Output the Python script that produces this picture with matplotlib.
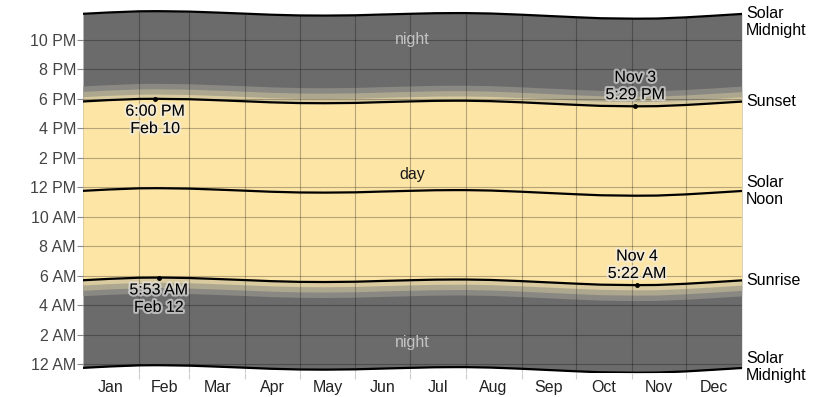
import numpy as np
import matplotlib.pyplot as plt
import matplotlib.patheffects as pe
from matplotlib.patches import Polygon

plt.rcParams['font.family'] = ['Liberation Sans', 'DejaVu Sans']

# day of year (Jan 1 = 0) and times in hours
days = [0, 14, 31, 41, 45, 59, 73, 90, 104, 120, 134, 151, 165, 181, 195, 206,
        212, 226, 243, 257, 273, 287, 306, 318, 334, 348, 365]
sunrise = [5.70, 5.79, 5.87, 5.88, 5.88, 5.85, 5.79, 5.71, 5.64, 5.59, 5.58, 5.60, 5.65, 5.70,
           5.74, 5.75, 5.75, 5.72, 5.64, 5.56, 5.47, 5.40, 5.37, 5.38, 5.46, 5.56, 5.69]
sunset = [17.82, 17.91, 17.99, 18.00, 17.99, 17.97, 17.91, 17.83, 17.76, 17.71, 17.70, 17.72, 17.77, 17.82,
          17.86, 17.87, 17.87, 17.84, 17.76, 17.68, 17.59, 17.52, 17.49, 17.50, 17.58, 17.68, 17.81]
# twilight lengths (hours past sunset / before sunrise): civil, nautical, astronomical
twilight = [0.32, 0.68, 1.05]

months = ['Jan', 'Feb', 'Mar', 'Apr', 'May', 'Jun', 'Jul', 'Aug', 'Sep', 'Oct', 'Nov', 'Dec']
month_edges = [0, 31, 59, 90, 120, 151, 181, 212, 243, 273, 304, 334, 365]
hour_ticks = [0, 2, 4, 6, 8, 10, 12, 14, 16, 18, 20, 22]
hour_labels = ['12 AM', '2 AM', '4 AM', '6 AM', '8 AM', '10 AM',
               '12 PM', '2 PM', '4 PM', '6 PM', '8 PM', '10 PM']

# annotated points
marks = [(40, 18.00, '6:00 PM\nFeb 10', 'below'),
         (42, 5.88, '5:53 AM\nFeb 12', 'below'),
         (306, 17.49, 'Nov 3\n5:29 PM', 'above'),
         (307, 5.37, 'Nov 4\n5:22 AM', 'above')]

x = np.array(days)
rise = np.array(sunrise)
sset = np.array(sunset)
noon = (rise + sset) / 2
mid_lo = noon - 12
mid_hi = noon + 12

night_c = '#6b6b6b'
tw_colors = ['#8a8883', '#aea78f', '#d9cb9f']
day_c = '#fde5a6'

fig = plt.figure(figsize=(8.25, 3.97), dpi=100)
ax = fig.add_axes([0.1006, 0.0600, 0.7984, 0.9141])
ax.set_xlim(0, 365)
ax.set_ylim(-0.6, 24.0)

ax.fill_between(x, mid_lo, mid_hi, color=night_c, lw=0, zorder=1)
for tw, c in zip(twilight[::-1], tw_colors):
    ax.fill_between(x, rise - tw, sset + tw, color=c, lw=0, zorder=1)
ax.fill_between(x, rise, sset, color=day_c, lw=0, zorder=1)

verts = np.vstack([np.column_stack([x, mid_lo]), np.column_stack([x[::-1], mid_hi[::-1]])])
clip = Polygon(verts, closed=True, transform=ax.transData)

vl = ax.vlines(month_edges[1:-1], -1, 25, color='black', alpha=0.28, lw=0.8, zorder=2)
hl = ax.hlines(hour_ticks, 0, 365, color='black', alpha=0.28, lw=0.8, zorder=2)
vl.set_clip_path(clip)
hl.set_clip_path(clip)
ax.vlines(month_edges[1:-1], -0.6, 0.3, color='#cccccc', lw=0.8, zorder=0)

for yy in [mid_lo, rise, noon, sset, mid_hi]:
    ax.plot(x, yy, color='black', lw=1.6, zorder=3)

halo = [pe.withStroke(linewidth=3, foreground='#eeeeee', alpha=0.6)]
for d, t, label, side in marks:
    ax.plot(d, t, 'o', color='black', ms=2.5, zorder=4)
    if side == 'below':
        ax.annotate(label, (d, t), xytext=(0, -3.5), textcoords='offset points',
                    ha='center', va='top', fontsize=11.5, linespacing=1.2,
                    color='black', path_effects=halo, zorder=5)
    else:
        ax.annotate(label, (d, t), xytext=(0, 3), textcoords='offset points',
                    ha='center', va='bottom', fontsize=11.5, linespacing=1.2,
                    color='black', path_effects=halo, zorder=5)

ax.text(182.5, 22.0, 'night', ha='center', va='center', fontsize=11.5, color='#c4c4c4', zorder=5)
ax.text(182.5, 1.45, 'night', ha='center', va='center', fontsize=11.5, color='#c4c4c4', zorder=5)
ax.text(182.5, 12.85, 'day', ha='center', va='center', fontsize=11.5, color='#1a1a1a', zorder=5)

right = [(23.2, 'Solar\nMidnight'), (sset[-1], 'Sunset'), (noon[-1], 'Solar\nNoon'),
         (rise[-1], 'Sunrise'), (-0.2, 'Solar\nMidnight')]
for yy, label in right:
    ax.annotate(label, (365, yy), xytext=(3, 0), textcoords='offset points',
                ha='left', va='center', fontsize=11.5, linespacing=1.2,
                color='black', annotation_clip=False)

ax.set_yticks(hour_ticks)
ax.set_yticklabels(hour_labels)
ax.tick_params(axis='y', length=4, width=0.8, color='#888888', labelcolor='#444444',
               labelsize=11.5, pad=1)
ax.set_xticks(month_edges[1:-1])
ax.set_xticklabels([])
ax.set_xticks([(month_edges[i] + month_edges[i + 1]) / 2 for i in range(12)], minor=True)
ax.set_xticklabels(months, minor=True)
ax.tick_params(axis='x', which='major', length=4, width=0.8, color='#cccccc')
ax.tick_params(axis='x', which='minor', length=0, labelsize=11.5, labelcolor='#222222', pad=5)
for s in ax.spines.values():
    s.set_visible(False)

fig.savefig('out.png', dpi=100)
